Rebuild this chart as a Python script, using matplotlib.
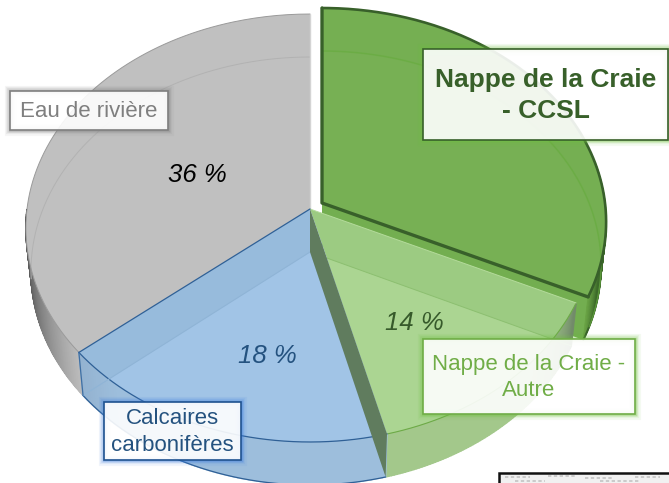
import numpy as np
import matplotlib
matplotlib.use("Agg")
import matplotlib.pyplot as plt
from matplotlib.patches import Polygon, Rectangle

# Data: share of each source, anticlockwise from the top of the pie
sources = ["Eau de rivière", "Calcaires\ncarbonifères", "Nappe de la Craie -\nAutre", "Nappe de la Craie\n- CCSL"]
shares = [36, 18, 14, 32]
share_labels = ["36 %", "18 %", "14 %"]

plt.rcParams["font.family"] = ["Liberation Sans", "DejaVu Sans"]

fig = plt.figure(figsize=(6.69, 4.83), dpi=100)
ax = fig.add_axes([0, 0, 1, 1])
ax.set_xlim(0, 669)
ax.set_ylim(483, 0)
ax.axis("off")

# Perspective of the pie, in pixels
CX, CY = 310, 209
RX, RY = 283, 212.3
K = 0.0888
THICK = 43
SHRINK = 0.018
EXPLODE = (12, -6)

bounds = np.cumsum([0] + shares) / sum(shares)


def proj(frac, r=1.0, depth=0.0, shift=(0, 0)):
    a = 2 * np.pi * np.asarray(frac, dtype=float)
    x = -np.sin(a) * r
    y = np.cos(a) * r
    w = 1 + K * y
    px = CX + (RX * x / w) * (1 - SHRINK * depth)
    py = CY - RY * y / w + THICK * depth
    return np.column_stack([px + shift[0], py + shift[1]])


def face(f0, f1, depth=0.0, shift=(0, 0)):
    arc = proj(np.linspace(f0, f1, 160), depth=depth, shift=shift)
    apex = proj([0], r=0, depth=depth, shift=shift)
    return np.vstack([apex, arc])


def rim(f0, f1, depth=0.0, shift=(0, 0)):
    return proj(np.linspace(f0, f1, 160), depth=depth, shift=shift)


def outer_wall(f0, f1, colour_at, shift=(0, 0), z=2, n=90):
    fr = np.linspace(f0, f1, n + 1)
    for i in range(n):
        top = proj(fr[i:i + 2], shift=shift)
        bot = proj(fr[i:i + 2], depth=1, shift=shift)
        t = (fr[i] - f0) / (f1 - f0)
        c = colour_at(t)
        ax.add_patch(Polygon(np.vstack([top, bot[::-1]]), closed=True, fc=c, ec=c, lw=1.0, zorder=z))


def mix(c0, c1, t):
    c0 = np.array(matplotlib.colors.to_rgb(c0))
    c1 = np.array(matplotlib.colors.to_rgb(c1))
    return tuple(c0 + (c1 - c0) * t)


def top_face(f0, f1, band, light, z, shift=(0, 0)):
    # the part of the top above the base reads darker than the rest
    p = Polygon(face(f0, f1, shift=shift), closed=True, fc=band, ec="none", zorder=z)
    ax.add_patch(p)
    q = Polygon(face(f0, f1, depth=1, shift=shift), closed=True, fc=light, ec="none", zorder=z)
    ax.add_patch(q)
    q.set_clip_path(p)


def line(pts, c, lw, z, alpha=1.0):
    ax.plot(pts[:, 0], pts[:, 1], color=c, lw=lw, alpha=alpha, zorder=z, solid_capstyle="round")


f_eau = (bounds[0], bounds[1])
f_cal = (bounds[1], bounds[2])
f_aut = (bounds[2], bounds[3])
f_ccsl = (bounds[3], bounds[4])

# Exploded slice: Nappe de la Craie - CCSL
DARK = "#38602A"
ax.add_patch(Polygon(np.vstack([proj([0], r=0, shift=EXPLODE), proj([f_ccsl[0]], shift=EXPLODE),
                                proj([f_ccsl[0]], depth=1, shift=EXPLODE), proj([0], r=0, depth=1, shift=EXPLODE)]),
                     closed=True, fc="#73AE50", ec="none", zorder=1))
outer_wall(f_ccsl[0], f_ccsl[0] + 0.1, lambda t: mix("#6BA546", "#3D6A2A", min(t * 4, 1)), shift=EXPLODE, z=1)
line(rim(f_ccsl[0], f_ccsl[0] + 0.1, depth=1, shift=EXPLODE), DARK, 1.4, 1.5)
top_face(f_ccsl[0], f_ccsl[1], "#75AF52", "#77B054", 3, shift=EXPLODE)
line(rim(f_ccsl[0] + 0.01, 1, depth=1, shift=EXPLODE), "#68AC40", 1.1, 3.2, alpha=0.7)
line(face(f_ccsl[0], f_ccsl[1], shift=EXPLODE)[[1, 0, -1]], DARK, 2.4, 3.5)
line(rim(f_ccsl[0], f_ccsl[1], shift=EXPLODE), DARK, 1.9, 3.5)

# Eau de riviere
outer_wall(0.25, f_eau[1], lambda t: mix("#333333", "#BDBDBD", t), z=4)
top_face(f_eau[0], f_eau[1], "#C0C0C0", "#C0C0C0", 5)
line(rim(f_eau[0], 0.27, depth=1), "#B2B2B2", 0.7, 5.2)
line(rim(f_eau[0], f_eau[1]), "#9A9A9A", 0.7, 5.3)
line(face(f_eau[0], f_eau[1])[[0, 1]], "#D4D4D4", 1.0, 5.3)

# Nappe de la Craie - Autre
outer_wall(f_aut[0], f_aut[1], lambda t: mix("#A3C88B", "#6F8768", max((t - 0.55) / 0.45, 0) ** 2), z=6)
top_face(f_aut[0], f_aut[1], "#9CCB82", "#ABD592", 7)
line(rim(f_aut[0], f_aut[1]), "#6DAA47", 0.8, 7.2)
line(face(f_aut[0], f_aut[1], depth=1)[[0, -1]], "#8CBF70", 0.7, 7.2)
line(face(f_aut[0], f_aut[1])[[0, -1]], "#B4DB9B", 0.7, 7.2)

# Calcaires carboniferes
outer_wall(f_cal[0], f_cal[1], lambda t: mix("#93B2D0", "#9DBEDC", min(t * 6, 1)), z=8)
top_face(f_cal[0], f_cal[1], "#97BBDC", "#A1C4E6", 9)
line(rim(f_cal[0], f_cal[1]), "#2F6096", 0.9, 9.2)
line(rim(f_cal[0], f_cal[1], depth=1), "#2F6096", 0.9, 9.2)
line(face(f_cal[0], f_cal[1])[[0, 1]], "#2F6096", 0.9, 9.2)
line(face(f_cal[0], f_cal[1], depth=1)[[0, 1]], "#8FB4D6", 0.8, 9.2)
line(np.vstack([proj([f_cal[0]]), proj([f_cal[0]], depth=1)]), "#3F6FA3", 0.9, 9.2)

# Inner wall between the blue and light green slices
wall = np.vstack([proj([0], r=0), proj([f_cal[1]]), proj([f_cal[1]], depth=1), proj([0], r=0, depth=1)])
ax.add_patch(Polygon(wall, closed=True, fc="#607C5E", ec="none", zorder=10))

# Percentages
pct_pos = [(197, 175), (267, 356), (414, 323)]
pct_col = ["#000000", "#24527F", "#375A2B"]
for lab, pos, col in zip(share_labels, pct_pos, pct_col):
    ax.text(pos[0], pos[1], lab, fontsize=18.5, style="italic", color=col, ha="center", va="center", zorder=11)


# Labels
def label(box, text, edge, glow, tcol, size, bold=False, lw=1.2, spacing=1.32):
    x0, y0, x1, y1 = box
    for g, a in zip([8, 6, 4, 2.5], [0.07, 0.1, 0.16, 0.25]):
        ax.add_patch(Rectangle((x0, y0), x1 - x0, y1 - y0, fc="none", ec=glow, lw=g, alpha=a, zorder=12))
    ax.add_patch(Rectangle((x0, y0), x1 - x0, y1 - y0, fc="white", ec="none", alpha=0.9, zorder=13))
    ax.add_patch(Rectangle((x0, y0), x1 - x0, y1 - y0, fc="none", ec=edge, lw=lw, zorder=14))
    ax.text((x0 + x1) / 2, (y0 + y1) / 2 + 1, text, fontsize=size, color=tcol, ha="center", va="center",
            fontweight="bold" if bold else "normal", linespacing=spacing, zorder=15)


label((10, 91, 168, 130), sources[0], "#7F7F7F", "#808080", "#7F7F7F", 16)
label((104, 402, 241, 460), sources[1], "#1F5290", "#3C7DDD", "#24527F", 16)
label((423, 339, 635, 414), sources[2], "#70AD47", "#70C040", "#70AD47", 16)
label((423, 49, 668, 140), sources[3], "#38602A", "#70C040", "#38602A", 19, bold=True, spacing=1.4)

# Corner of the neighbouring picture, cut off at the bottom right
ax.add_patch(Rectangle((499, 473), 175, 20, fc="#F1F1F1", ec="#111111", lw=1.8, zorder=16))
for x0, x1, y in [(505, 530, 477), (548, 575, 476), (585, 612, 478), (635, 660, 477), (515, 545, 481), (600, 640, 481)]:
    ax.plot([x0, x1], [y, y], color="#C4C4C4", lw=1.2, ls=(0, (2, 1.5)), zorder=17)

fig.savefig("out.png", dpi=100)
